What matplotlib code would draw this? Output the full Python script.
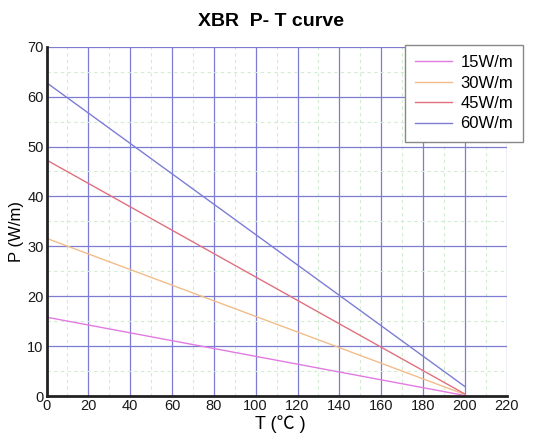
import matplotlib
matplotlib.use("Agg")
import matplotlib.pyplot as plt
from matplotlib.ticker import MultipleLocator

plt.rcParams['font.family'] = ['Liberation Sans', 'Noto Sans CJK SC', 'DejaVu Sans']

# Data
T = [0, 200]
p15 = [15.8, 0.1]
p30 = [31.6, 0.3]
p45 = [47.3, 0.4]
p60 = [62.8, 1.9]
labels = ["15W/m", "30W/m", "45W/m", "60W/m"]
series = [p15, p30, p45, p60]
colors = ["#e27ae2", "#f2bd8a", "#e0707e", "#7c7cd6"]
xticks = list(range(0, 221, 20))
yticks = list(range(0, 71, 10))

fig = plt.figure(figsize=(5.54, 4.45), dpi=100)
ax = fig.add_axes([46.5/554, 1-396/445, (506.7-46.5)/554, (396-46.7)/445])

ax.set_xlim(0, 220)
ax.set_ylim(0, 70)
ax.set_xticks(xticks)
ax.set_yticks(yticks)
ax.xaxis.set_minor_locator(MultipleLocator(10))
ax.yaxis.set_minor_locator(MultipleLocator(5))
ax.grid(which='minor', color='#d2ecd2', linestyle=(0, (3, 3)), linewidth=0.8)
ax.grid(which='major', color='#7c7cd0', linestyle='-', linewidth=0.9)
ax.set_axisbelow(True)

for vals, lab, c in zip(series, labels, colors):
    ax.plot(T, vals, color=c, linewidth=1.0, label=lab)

for s in ['top', 'right']:
    ax.spines[s].set_visible(False)
for s in ['left', 'bottom']:
    ax.spines[s].set_linewidth(2.0)
    ax.spines[s].set_color('#222222')

ax.tick_params(which='both', length=0, labelsize=10.5, colors='#1a1a1a')
ax.tick_params(axis='x', pad=2)
ax.tick_params(axis='y', pad=2)

ax.set_xlabel("T (\u2103 )", fontsize=13)
ax.xaxis.set_label_coords(0.508, -0.080)
ax.xaxis.label.set_va('center')
ax.set_ylabel("P (W/m)", fontsize=12)
ax.yaxis.set_label_coords(-0.066, 0.47)
ax.yaxis.label.set_va('center')

fig.text(271.5/554, 1-21/445, "XBR  P- T curve", ha='center', va='center',
         fontsize=14, fontweight='bold')

leg = fig.legend(loc='upper right', bbox_to_anchor=(523/554, 1-45/445),
                 bbox_transform=fig.transFigure, borderaxespad=0,
                 fontsize=12, handlelength=2.2, labelspacing=0.33,
                 frameon=True, fancybox=False, framealpha=1,
                 edgecolor='#888888', borderpad=0.6, handletextpad=0.5)
leg.get_frame().set_linewidth(1.0)

fig.savefig("out.png", dpi=100)
